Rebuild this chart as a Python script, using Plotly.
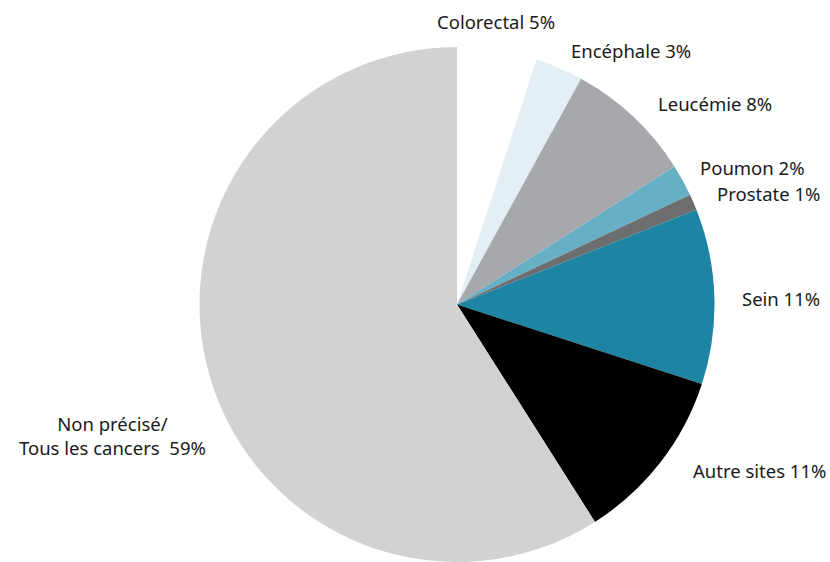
import plotly.graph_objects as go

W, H = 830, 562

labels = ["Colorectal", "Encéphale", "Leucémie", "Poumon", "Prostate",
          "Sein", "Autre sites", "Non précisé/<br>Tous les cancers "]
values = [5, 3, 8, 2, 1, 11, 11, 59]
colors = ["#ffffff", "#e3eff4", "#a7a8ab", "#67afc4", "#6d6e70",
          "#1d85a3", "#000000", "#d1d2d4"]

# label anchor points in pixels (x, y) and horizontal anchoring
label_pos = [(435, 22, "left"), (569, 50, "left"), (656, 104, "left"),
             (698, 167, "left"), (715, 193, "left"), (740, 298, "left"),
             (691, 470, "left"), (112, 436, "center")]

fig = go.Figure(go.Pie(
    labels=labels,
    values=values,
    marker=dict(colors=colors, line=dict(width=0)),
    sort=False,
    direction="clockwise",
    rotation=0,
    textinfo="none",
    hoverinfo="label+percent",
    domain=dict(x=[199 / W, 715 / W], y=[0, 1 - 47 / H]),
    showlegend=False,
))

for lab, val, (px, py, anch) in zip(labels, values, label_pos):
    fig.add_annotation(
        x=px / W, y=1 - py / H, xref="paper", yref="paper",
        text=f"{lab} {val}%", showarrow=False,
        xanchor=anch, yanchor="middle", align="center",
        font=dict(family="Noto Sans", size=18.5, color="#1a1a1a"),
    )

fig.update_layout(
    width=W, height=H,
    margin=dict(l=0, r=0, t=0, b=0),
    paper_bgcolor="white", plot_bgcolor="white",
)

fig.write_html("out.html")
